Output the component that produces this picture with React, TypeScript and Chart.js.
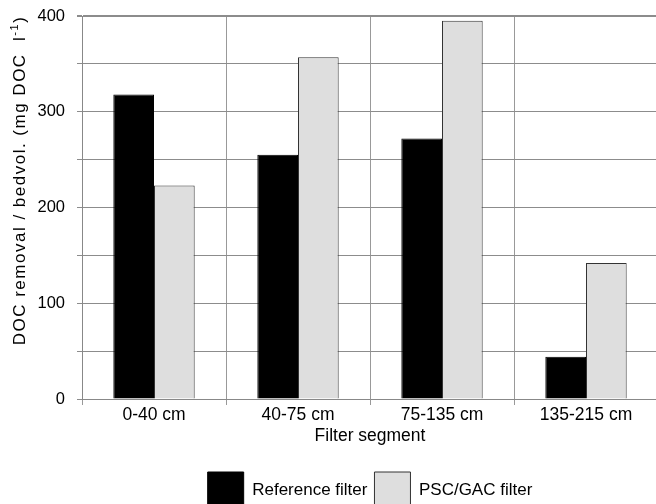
import React, { useEffect, useRef } from "react";
import { Chart, registerables } from "chart.js";

Chart.register(...registerables);

const categories = ["0-40 cm", "40-75 cm", "75-135 cm", "135-215 cm"];
const referenceFilter = [318, 255, 272, 44];
const pscGacFilter = [223, 357, 395, 142];
const seriesNames = ["Reference filter", "PSC/GAC filter"];
const xTitle = "Filter segment";
const yTitleMain = "DOC removal / bedvol. (mg DOC  l";
const yTitleSup = "-1";
const yTitleEnd = ")";

const FONT = "'Liberation Sans', Arial, Helvetica, sans-serif";

const yTitlePlugin = {
  id: "yTitlePlugin",
  afterDraw(chart: any) {
    const ctx = chart.ctx as CanvasRenderingContext2D;
    const { top, bottom } = chart.chartArea;
    ctx.save();
    const main = `17px ${FONT}`;
    const sup = `11px ${FONT}`;
    (ctx as any).letterSpacing = "1.5px";
    ctx.font = main;
    const w1 = ctx.measureText(yTitleMain).width;
    const w3 = ctx.measureText(yTitleEnd).width;
    ctx.font = sup;
    const w2 = ctx.measureText(yTitleSup).width;
    const total = w1 + w2 + w3;
    ctx.translate(20, (top + bottom) / 2 - 27);
    ctx.rotate(-Math.PI / 2);
    ctx.fillStyle = "#000";
    ctx.textBaseline = "middle";
    ctx.textAlign = "left";
    let x = -total / 2;
    ctx.font = main;
    ctx.fillText(yTitleMain, x, 0);
    x += w1;
    ctx.font = sup;
    ctx.fillText(yTitleSup, x, -5);
    x += w2;
    ctx.font = main;
    ctx.fillText(yTitleEnd, x, 0);
    ctx.restore();
  },
};

export default function App() {
  const ref = useRef<HTMLCanvasElement | null>(null);
  useEffect(() => {
    if (!ref.current) return;
    Chart.defaults.font.family = FONT;
    const chart = new Chart(ref.current, {
      type: "bar",
      data: {
        labels: categories,
        datasets: [
          {
            label: seriesNames[0],
            data: referenceFilter,
            backgroundColor: "#000000",
            borderColor: "#000000",
            borderWidth: 1,
          },
          {
            label: seriesNames[1],
            data: pscGacFilter,
            backgroundColor: "#dedede",
            borderColor: "#333333",
            borderWidth: 1,
          },
        ],
      },
      options: {
        responsive: false,
        animation: false,
        devicePixelRatio: 1,
        layout: { padding: { top: 16, left: 0, right: 0, bottom: 2 } },
        datasets: { bar: { categoryPercentage: 0.565, barPercentage: 1 } } as any,
        plugins: {
          tooltip: { enabled: false },
          legend: {
            position: "bottom",
            fullSize: false,
            labels: {
              boxWidth: 36,
              boxHeight: 36,
              padding: 7,
              color: "#000",
              font: { size: 17 },
            },
          },
        },
        scales: {
          x: {
            grid: { color: "#999999", tickLength: 6, offset: true },
            border: { color: "#888888" },
            ticks: { color: "#000", font: { size: 17.5 }, padding: 0 },
            title: {
              display: true,
              text: xTitle,
              color: "#000",
              font: { size: 17.5 },
              padding: { top: 0, bottom: 18 },
            },
          },
          y: {
            min: 0,
            max: 400,
            afterFit: (scale: any) => {
              scale.width = 82;
              scale.paddingTop = 0;
              scale.paddingBottom = 0;
            },
            grid: {
              color: "#8c8c8c",
              tickLength: 5,
              lineWidth: (ctx: any) => (ctx.tick && ctx.tick.value === 400 ? 2 : 1),
            },
            border: { color: "#888888" },
            ticks: {
              stepSize: 50,
              color: "#000",
              font: { size: 16.5 },
              padding: 12,
              callback: (v: any) => (Number(v) % 100 === 0 ? String(v) : ""),
            },
          },
        },
      },
      plugins: [yTitlePlugin],
    });
    return () => chart.destroy();
  }, []);
  return (
    <div
      style={{
        position: "fixed",
        left: 0,
        top: 0,
        width: 656,
        height: 504,
        overflow: "hidden",
        background: "#fff",
      }}
    >
      <canvas ref={ref} width={658} height={520} style={{ display: "block" }} />
    </div>
  );
}
